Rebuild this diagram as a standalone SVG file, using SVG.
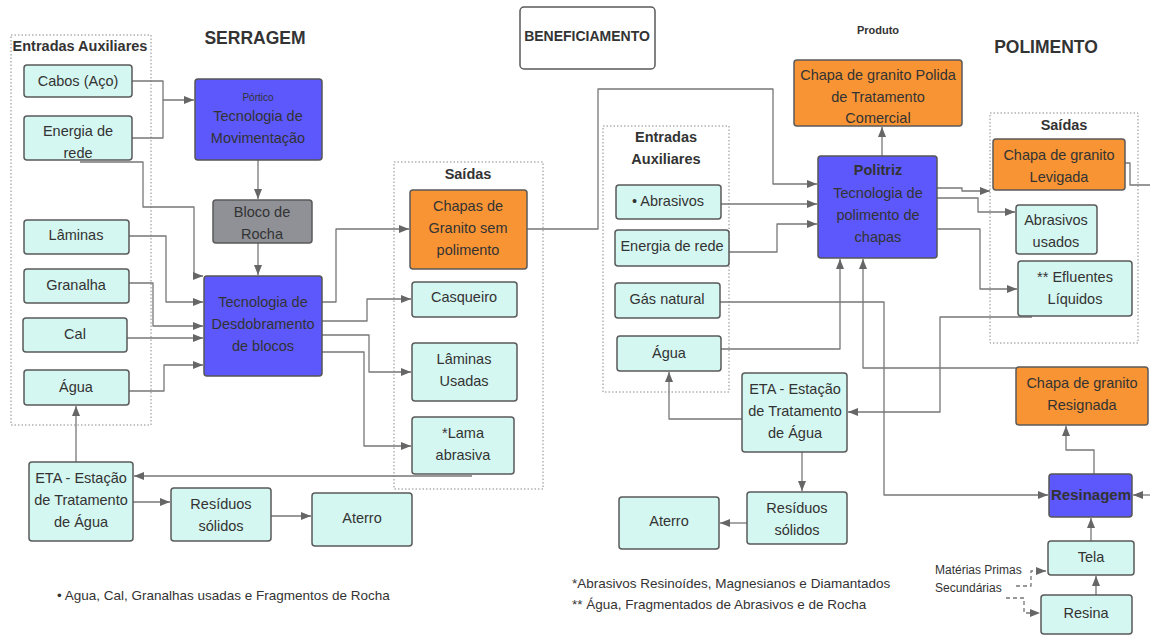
<svg xmlns="http://www.w3.org/2000/svg" width="1150" height="635" viewBox="0 0 1150 635">
<style>
text{font-family:"Liberation Sans",Arial,sans-serif;fill:#333;}
.t{font-size:14.5px;text-anchor:middle;}
.b{font-weight:bold;}
.ttl{font-size:17.5px;font-weight:bold;text-anchor:middle;}
.hd{font-size:14.5px;font-weight:bold;text-anchor:middle;}
.note{font-size:13.5px;}
.teal{fill:#d5f7f1;stroke:#5a5a5a;stroke-width:1.5;}
.blue{fill:#5c58fb;stroke:#555;stroke-width:1.5;}
.orange{fill:#f89433;stroke:#5a5a5a;stroke-width:1.5;}
.grey{fill:#8f9197;stroke:#5a5a5a;stroke-width:1.5;}
.white{fill:#fff;stroke:#5a5a5a;stroke-width:1.5;}
.cont{fill:none;stroke:#8a8a8a;stroke-width:1;stroke-dasharray:1.5 2;}
.c{fill:none;stroke:#777;stroke-width:1.3;stroke-linejoin:round;}
.d{stroke-dasharray:4 3;}
</style>
<defs>
<marker id="a" viewBox="0 0 10 8" refX="10" refY="4" markerWidth="10" markerHeight="8" markerUnits="userSpaceOnUse" orient="auto">
<path d="M0,0 L10,4 L0,8 z" fill="#666"/>
</marker>
</defs>

<!-- containers and titles -->
<g id="containers">
<rect class="cont" x="11" y="35" width="140" height="390"/>
<rect class="cont" x="394" y="162" width="149" height="327"/>
<rect class="cont" x="603" y="126" width="126" height="266"/>
<rect class="cont" x="990" y="113" width="148" height="230"/>
<text class="hd" x="80" y="51">Entradas Auxiliares</text>
<text class="hd" x="468" y="179">Saídas</text>
<text class="hd" x="666" y="142">Entradas</text>
<text class="hd" x="666" y="164">Auxiliares</text>
<text class="hd" x="1064" y="130">Saídas</text>
<text class="ttl" x="255" y="44">SERRAGEM</text>
<text class="ttl" x="1046" y="53">POLIMENTO</text>
<text class="b" x="878" y="34" style="font-size:11px;text-anchor:middle">Produto</text>
</g>

<g id="connectors">
<path class="c" d="M132,81 H163 V100 H194" marker-end="url(#a)"/>
<path class="c" d="M132,138 H163 V100"/>
<path class="c" d="M258,160 V199" marker-end="url(#a)"/>
<path class="c" d="M80,162 H143 V207 H194 V276 H203" marker-end="url(#a)"/>
<path class="c" d="M258,243 V275" marker-end="url(#a)"/>
<path class="c" d="M129,236 H166 V302 H203" marker-end="url(#a)"/>
<path class="c" d="M129,283 H153 V326 H203" marker-end="url(#a)"/>
<path class="c" d="M127,338 H203" marker-end="url(#a)"/>
<path class="c" d="M125,391 H164 V365 H203" marker-end="url(#a)"/>
<path class="c" d="M76,462 V406" marker-end="url(#a)"/>
<path class="c" d="M472,476 H134" marker-end="url(#a)"/>
<path class="c" d="M133,502 H170" marker-end="url(#a)"/>
<path class="c" d="M271,516 H311" marker-end="url(#a)"/>
<path class="c" d="M322,302 H336 V229 H409" marker-end="url(#a)"/>
<path class="c" d="M322,321 H367 V299 H411" marker-end="url(#a)"/>
<path class="c" d="M322,335 H369 V372 H411" marker-end="url(#a)"/>
<path class="c" d="M322,352 H364 V446 H411" marker-end="url(#a)"/>
<path class="c" d="M527,229 H598 V89 H773 V184 H817" marker-end="url(#a)"/>
<path class="c" d="M721,204 H817" marker-end="url(#a)"/>
<path class="c" d="M729,252 H777 V224 H817" marker-end="url(#a)"/>
<path class="c" d="M720,302 H884 V495 H1048" marker-end="url(#a)"/>
<path class="c" d="M721,349 H840 V259" marker-end="url(#a)"/>
<path class="c" d="M742,419 H669 V372" marker-end="url(#a)"/>
<path class="c" d="M802,452 V491" marker-end="url(#a)"/>
<path class="c" d="M747,523 H720" marker-end="url(#a)"/>
<path class="c" d="M882,156 V127" marker-end="url(#a)"/>
<path class="c" d="M937,188 H962 V191 H990" marker-end="url(#a)"/>
<path class="c" d="M937,198 H978 V212 H1015" marker-end="url(#a)"/>
<path class="c" d="M937,229 H980 V289 H1017" marker-end="url(#a)"/>
<path class="c" d="M1032,317 H940 V412 H848" marker-end="url(#a)"/>
<path class="c" d="M1016,368 H863 V259" marker-end="url(#a)"/>
<path class="c" d="M1094,474 V450 H1066 V426" marker-end="url(#a)"/>
<path class="c" d="M1125,163 H1130 V185 H1150"/>
<path class="c" d="M1150,495 H1133" marker-end="url(#a)"/>
<path class="c" d="M1091,541 V518" marker-end="url(#a)"/>
<path class="c" d="M1096,595 V576" marker-end="url(#a)"/>
<path class="c d" d="M1016,586 H1031 V571 H1046" marker-end="url(#a)"/>
<path class="c d" d="M1006,598 H1024 V613 H1040" marker-end="url(#a)"/>
</g>

<g id="cabos"><rect class="teal" x="24" y="65" width="108" height="32" rx="3"/><text class="t" x="78" y="86">Cabos (Aço)</text></g>
<g id="energia1"><rect class="teal" x="24" y="116" width="108" height="44" rx="3"/><text class="t" x="78" y="136">Energia de</text><text class="t" x="78" y="158">rede</text></g>
<g id="portico"><rect class="blue" x="195" y="79" width="127" height="81" rx="3"/><text class="t" x="258" y="101" style="font-size:10px">Pórtico</text><text class="t" x="258" y="121">Tecnologia de</text><text class="t" x="258" y="143">Movimentação</text></g>
<g id="bloco"><rect class="grey" x="213" y="200" width="99" height="43" rx="3"/><text class="t" x="262" y="217">Bloco de</text><text class="t" x="262" y="239">Rocha</text></g>
<g id="desdobramento"><rect class="blue" x="204" y="276" width="118" height="100" rx="3"/><text class="t" x="263" y="307">Tecnologia de</text><text class="t" x="263" y="329">Desdobramento</text><text class="t" x="263" y="351">de blocos</text></g>
<g id="laminas"><rect class="teal" x="24" y="220" width="105" height="34" rx="3"/><text class="t" x="76" y="240">Lâminas</text></g>
<g id="granalha"><rect class="teal" x="24" y="269" width="105" height="34" rx="3"/><text class="t" x="76" y="290">Granalha</text></g>
<g id="cal"><rect class="teal" x="23" y="318" width="104" height="34" rx="3"/><text class="t" x="75" y="339">Cal</text></g>
<g id="agua1"><rect class="teal" x="24" y="370" width="105" height="35" rx="3"/><text class="t" x="76" y="392">Água</text></g>
<g id="eta1"><rect class="teal" x="29" y="462" width="104" height="79" rx="3"/><text class="t" x="81" y="483">ETA - Estação</text><text class="t" x="81" y="505">de Tratamento</text><text class="t" x="81" y="527">de Água</text></g>
<g id="residuos1"><rect class="teal" x="171" y="488" width="100" height="53" rx="3"/><text class="t" x="221" y="509">Resíduos</text><text class="t" x="221" y="531">sólidos</text></g>
<g id="aterro1"><rect class="teal" x="312" y="493" width="100" height="53" rx="3"/><text class="t" x="362" y="523">Aterro</text></g>
<g id="chapas"><rect class="orange" x="410" y="190" width="117" height="79" rx="3"/><text class="t" x="468" y="211">Chapas de</text><text class="t" x="468" y="233">Granito sem</text><text class="t" x="468" y="255">polimento</text></g>
<g id="casqueiro"><rect class="teal" x="412" y="282" width="105" height="35" rx="3"/><text class="t" x="464" y="302">Casqueiro</text></g>
<g id="laminasusadas"><rect class="teal" x="412" y="343" width="105" height="58" rx="3"/><text class="t" x="464" y="364">Lâminas</text><text class="t" x="464" y="386">Usadas</text></g>
<g id="lama"><rect class="teal" x="412" y="417" width="102" height="57" rx="3"/><text class="t" x="463" y="438">*Lama</text><text class="t" x="463" y="460">abrasiva</text></g>
<g id="beneficiamento"><rect class="white" x="520" y="7" width="135" height="62" rx="4"/><text class="b" x="587" y="41" style="font-size:14px;text-anchor:middle">BENEFICIAMENTO</text></g>
<g id="abrasivos"><rect class="teal" x="616" y="185" width="105" height="34" rx="3"/><text class="t" x="668" y="206">• Abrasivos</text></g>
<g id="energia2"><rect class="teal" x="615" y="230" width="114" height="36" rx="3"/><text class="t" x="672" y="251">Energia de rede</text></g>
<g id="gas"><rect class="teal" x="615" y="283" width="105" height="35" rx="3"/><text class="t" x="667" y="304">Gás natural</text></g>
<g id="agua2"><rect class="teal" x="617" y="336" width="104" height="35" rx="3"/><text class="t" x="669" y="358">Água</text></g>
<g id="eta2"><rect class="teal" x="742" y="373" width="105" height="79" rx="3"/><text class="t" x="795" y="394">ETA - Estação</text><text class="t" x="795" y="416">de Tratamento</text><text class="t" x="795" y="438">de Água</text></g>
<g id="residuos2"><rect class="teal" x="747" y="492" width="100" height="52" rx="3"/><text class="t" x="797" y="513">Resíduos</text><text class="t" x="797" y="535">sólidos</text></g>
<g id="aterro2"><rect class="teal" x="619" y="497" width="100" height="52" rx="3"/><text class="t" x="669" y="526">Aterro</text></g>
<g id="politriz"><rect class="blue" x="818" y="156" width="119" height="102" rx="3"/><text class="t b" x="878" y="175">Politriz</text><text class="t" x="878" y="198">Tecnologia de</text><text class="t" x="878" y="220">polimento de</text><text class="t" x="878" y="242">chapas</text></g>
<g id="produto"><rect class="orange" x="794" y="60" width="168" height="66" rx="3"/><text class="t" x="878" y="80">Chapa de granito Polida</text><text class="t" x="878" y="102">de Tratamento</text><text class="t" x="878" y="123">Comercial</text></g>
<g id="levigada"><rect class="orange" x="993" y="139" width="132" height="51" rx="3"/><text class="t" x="1059" y="160">Chapa de granito</text><text class="t" x="1059" y="182">Levigada</text></g>
<g id="abrasivosusados"><rect class="teal" x="1016" y="205" width="81" height="49" rx="3"/><text class="t" x="1056" y="225">Abrasivos</text><text class="t" x="1056" y="247">usados</text></g>
<g id="efluentes"><rect class="teal" x="1018" y="261" width="114" height="55" rx="3"/><text class="t" x="1075" y="282">** Efluentes</text><text class="t" x="1075" y="304">Líquidos</text></g>
<g id="resignada"><rect class="orange" x="1016" y="367" width="132" height="58" rx="3"/><text class="t" x="1082" y="388">Chapa de granito</text><text class="t" x="1082" y="410">Resignada</text></g>
<g id="resinagem"><rect class="blue" x="1049" y="474" width="83" height="43" rx="3"/><text class="t b" x="1091" y="500" style="font-size:15px">Resinagem</text></g>
<g id="tela"><rect class="teal" x="1048" y="541" width="86" height="34" rx="3"/><text class="t" x="1091" y="562">Tela</text></g>
<g id="resina"><rect class="teal" x="1041" y="595" width="91" height="39" rx="3"/><text class="t" x="1086" y="618">Resina</text></g>

<g id="notes">
<text class="note" x="57" y="600">• Agua, Cal, Granalhas usadas e Fragmentos de Rocha</text>
<text class="note" x="572" y="588">*Abrasivos Resinoídes, Magnesianos e Diamantados</text>
<text class="note" x="572" y="609">** Água, Fragmentados de Abrasivos e de Rocha</text>
<text x="935" y="574" style="font-size:12px">Matérias Primas</text>
<text x="935" y="592" style="font-size:12px">Secundárias</text>
</g>
</svg>
